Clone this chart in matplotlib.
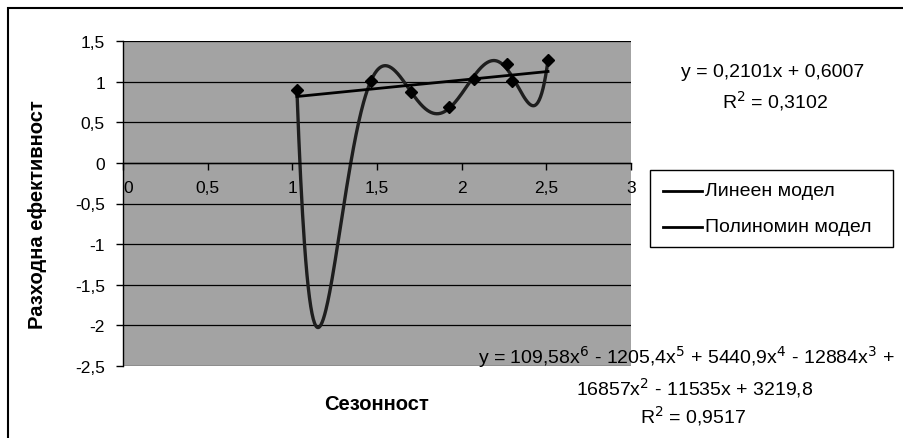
import numpy as np
import matplotlib
matplotlib.use('Agg')
import matplotlib.pyplot as plt
from matplotlib.patches import Rectangle

plt.rcParams['font.family'] = ['Liberation Sans', 'DejaVu Sans']

# observations: seasonality vs. cost efficiency
season = [1.027, 1.464, 1.700, 1.928, 2.070, 2.270, 2.298, 2.510]
efficiency = [0.90, 1.01, 0.873, 0.693, 1.033, 1.218, 1.005, 1.267]

y_ticks = [-2.5, -2, -1.5, -1, -0.5, 0, 0.5, 1, 1.5]
x_ticks = [0, 0.5, 1, 1.5, 2, 2.5, 3]

lin_eq = 'y = 0,2101x + 0,6007'
lin_r2 = 'R$^2$ = 0,3102'
poly_eq1 = 'y = 109,58x$^6$ - 1205,4x$^5$ + 5440,9x$^4$ - 12884x$^3$ +'
poly_eq2 = '16857x$^2$ - 11535x + 3219,8'
poly_r2 = 'R$^2$ = 0,9517'


def fmt(v):
    return str(int(v)) if v == int(v) else str(v).replace('.', ',')


fig = plt.figure(figsize=(9.04, 4.39), dpi=100)
ax = fig.add_axes([123 / 904, 1 - 367 / 439, 508 / 904, 325 / 439])
ax.set_facecolor('#a3a3a3')

x = np.array(season)
y = np.array(efficiency)

# trend lines fitted to the observations
lin = np.polyfit(x, y, 1)
poly = np.polyfit(x, y, 6)
xs = np.linspace(x.min(), x.max(), 400)

for v in y_ticks:
    ax.axhline(v, color='black', lw=0.9, zorder=1)

ax.plot(xs, np.polyval(poly, xs), color='#1e1e1e', lw=2.4, zorder=2)
ax.plot(xs, np.polyval(lin, xs), color='black', lw=2.0, zorder=3)
ax.plot(x, y, 'D', color='black', ms=6.5, zorder=4)

ax.set_xlim(0, 3)
ax.set_ylim(-2.5, 1.5)
ax.set_yticks(y_ticks)
ax.set_yticklabels([fmt(v) for v in y_ticks], fontsize=12.5)
ax.tick_params(axis='y', direction='out', length=5, width=1, pad=8)

# x axis crosses at y = 0
ax.spines['bottom'].set_position(('data', 0))
for s in ['top', 'right']:
    ax.spines[s].set_visible(False)
ax.spines['left'].set_linewidth(1)
ax.spines['bottom'].set_linewidth(1)
ax.set_xticks(x_ticks)
ax.set_xticklabels([fmt(v) for v in x_ticks], fontsize=12.5)
ax.tick_params(axis='x', direction='out', length=5, width=1, pad=7)
ax.get_xticklabels()[0].set_horizontalalignment('left')

ax.set_ylabel('Разходна ефективност', fontsize=14.5, fontweight='bold')
ax.yaxis.set_label_coords((47 - 123) / 508, (367 - 215) / 325)
fig.text(377 / 904, 1 - 405 / 439, 'Сезонност', fontsize=14.5, fontweight='bold',
         ha='center', va='center')

fig.text(773 / 904, 1 - 73 / 439, lin_eq, fontsize=14, ha='center', va='center')
fig.text(775 / 904, 1 - 101 / 439, lin_r2, fontsize=14, ha='center', va='center')
fig.text(478 / 904, 1 - 357 / 439, poly_eq1, fontsize=14, ha='left', va='center')
fig.text(695 / 904, 1 - 388 / 439, poly_eq2, fontsize=14, ha='center', va='center')
fig.text(693 / 904, 1 - 416 / 439, poly_r2, fontsize=14, ha='center', va='center')

# legend box
fig.patches.append(Rectangle((650 / 904, 1 - 248 / 439), 243 / 904, 77 / 439,
                             transform=fig.transFigure, facecolor='white',
                             edgecolor='black', lw=1))
for i, name in enumerate(['Линеен модел', 'Полиномин модел']):
    yy = 1 - (192 + i * 36) / 439
    fig.add_artist(plt.Line2D([663 / 904, 702 / 904], [yy, yy], color='black', lw=2,
                              transform=fig.transFigure))
    fig.text(705 / 904, yy, name, fontsize=14, ha='left', va='center')

# chart border
fig.patches.append(Rectangle((8 / 904, -0.05), 1.0, 1 - 9 / 439 + 0.05,
                             transform=fig.transFigure, facecolor='none',
                             edgecolor='black', lw=1.5))

fig.savefig('out.png', dpi=100)
